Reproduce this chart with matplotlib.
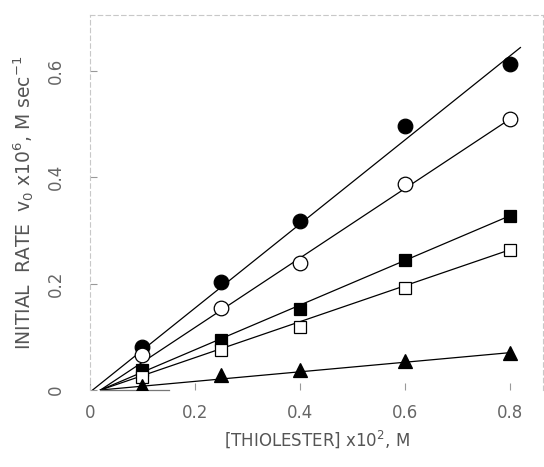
import matplotlib.pyplot as plt
import numpy as np

# Thiolester concentration (x10^2 M) and initial rates (v0 x10^6, M/sec)
thiolester = [0.1, 0.25, 0.4, 0.6, 0.8]
rate_filled_circle = [0.081, 0.203, 0.317, 0.496, 0.613]
rate_open_circle = [0.066, 0.155, 0.238, 0.387, 0.509]
rate_filled_square = [0.038, 0.094, 0.153, 0.245, 0.328]
rate_open_square = [0.025, 0.075, 0.119, 0.192, 0.264]
rate_triangle = [0.007, 0.028, 0.038, 0.055, 0.070]

# fitted lines drawn on the original: slope, start and end of x
fit_slope = [0.79, 0.653, 0.42, 0.338, 0.09]
fit_x_start = [0.005, 0.02, 0.02, 0.02, 0.02]
fit_x_end = [0.82, 0.8, 0.8, 0.8, 0.8]

x_ticks = [0, 0.2, 0.4, 0.6, 0.8]
x_tick_labels = ['0', '0.2', '0.4', '0.6', '0.8']
y_ticks = [0, 0.2, 0.4, 0.6]
y_tick_labels = ['0', '0.2', '0.4', '0.6']

series = [rate_filled_circle, rate_open_circle, rate_filled_square,
          rate_open_square, rate_triangle]
markers = ['o', 'o', 's', 's', '^']
faces = ['black', 'white', 'black', 'white', 'black']
sizes = [10.5, 10.5, 8.5, 8.5, 10]

fig = plt.figure(figsize=(5.44, 4.67), dpi=100)
ax = fig.add_axes([90 / 544, 1 - 390 / 467, 453 / 544, 375 / 467])

for i, ys in enumerate(series):
    xs = np.array([fit_x_start[i], fit_x_end[i]])
    ax.plot(xs, fit_slope[i] * (xs - fit_x_start[i]),
            color='black', lw=0.9, zorder=2)
    ax.plot(thiolester, ys, linestyle='none', marker=markers[i],
            markerfacecolor=faces[i], markeredgecolor='black',
            markeredgewidth=0.9, markersize=sizes[i], zorder=3)

ax.set_xlim(0, 0.863)
ax.set_ylim(0, 0.705)

# faded frame, as on the scanned page
for side in ['top', 'left', 'right']:
    ax.spines[side].set_color('#c8c8c8')
    ax.spines[side].set_linewidth(0.8)
    ax.spines[side].set_linestyle((0, (4, 3)))
ax.spines['bottom'].set_visible(False)
ax.plot([0.02, 0.15], [0, 0], color='#777777', lw=0.9, clip_on=False)

ax.set_xticks(x_ticks)
ax.set_xticklabels(x_tick_labels)
ax.set_yticks(y_ticks)
ax.set_yticklabels(y_tick_labels, rotation=90, va='center')
ax.tick_params(direction='in', length=5, width=0.8, color='#999999',
               labelcolor='#666666', labelsize=12)
ax.tick_params(axis='x', pad=10)
ax.tick_params(axis='y', pad=18)

ax.set_xlabel('[THIOLESTER] x10$^2$, M', color='#555555', fontsize=12,
              labelpad=5)
ax.set_ylabel('INITIAL  RATE  v$_0$ x10$^6$, M sec$^{-1}$', color='#555555',
              fontsize=13.5, labelpad=8)

fig.savefig('out.png', dpi=100)
